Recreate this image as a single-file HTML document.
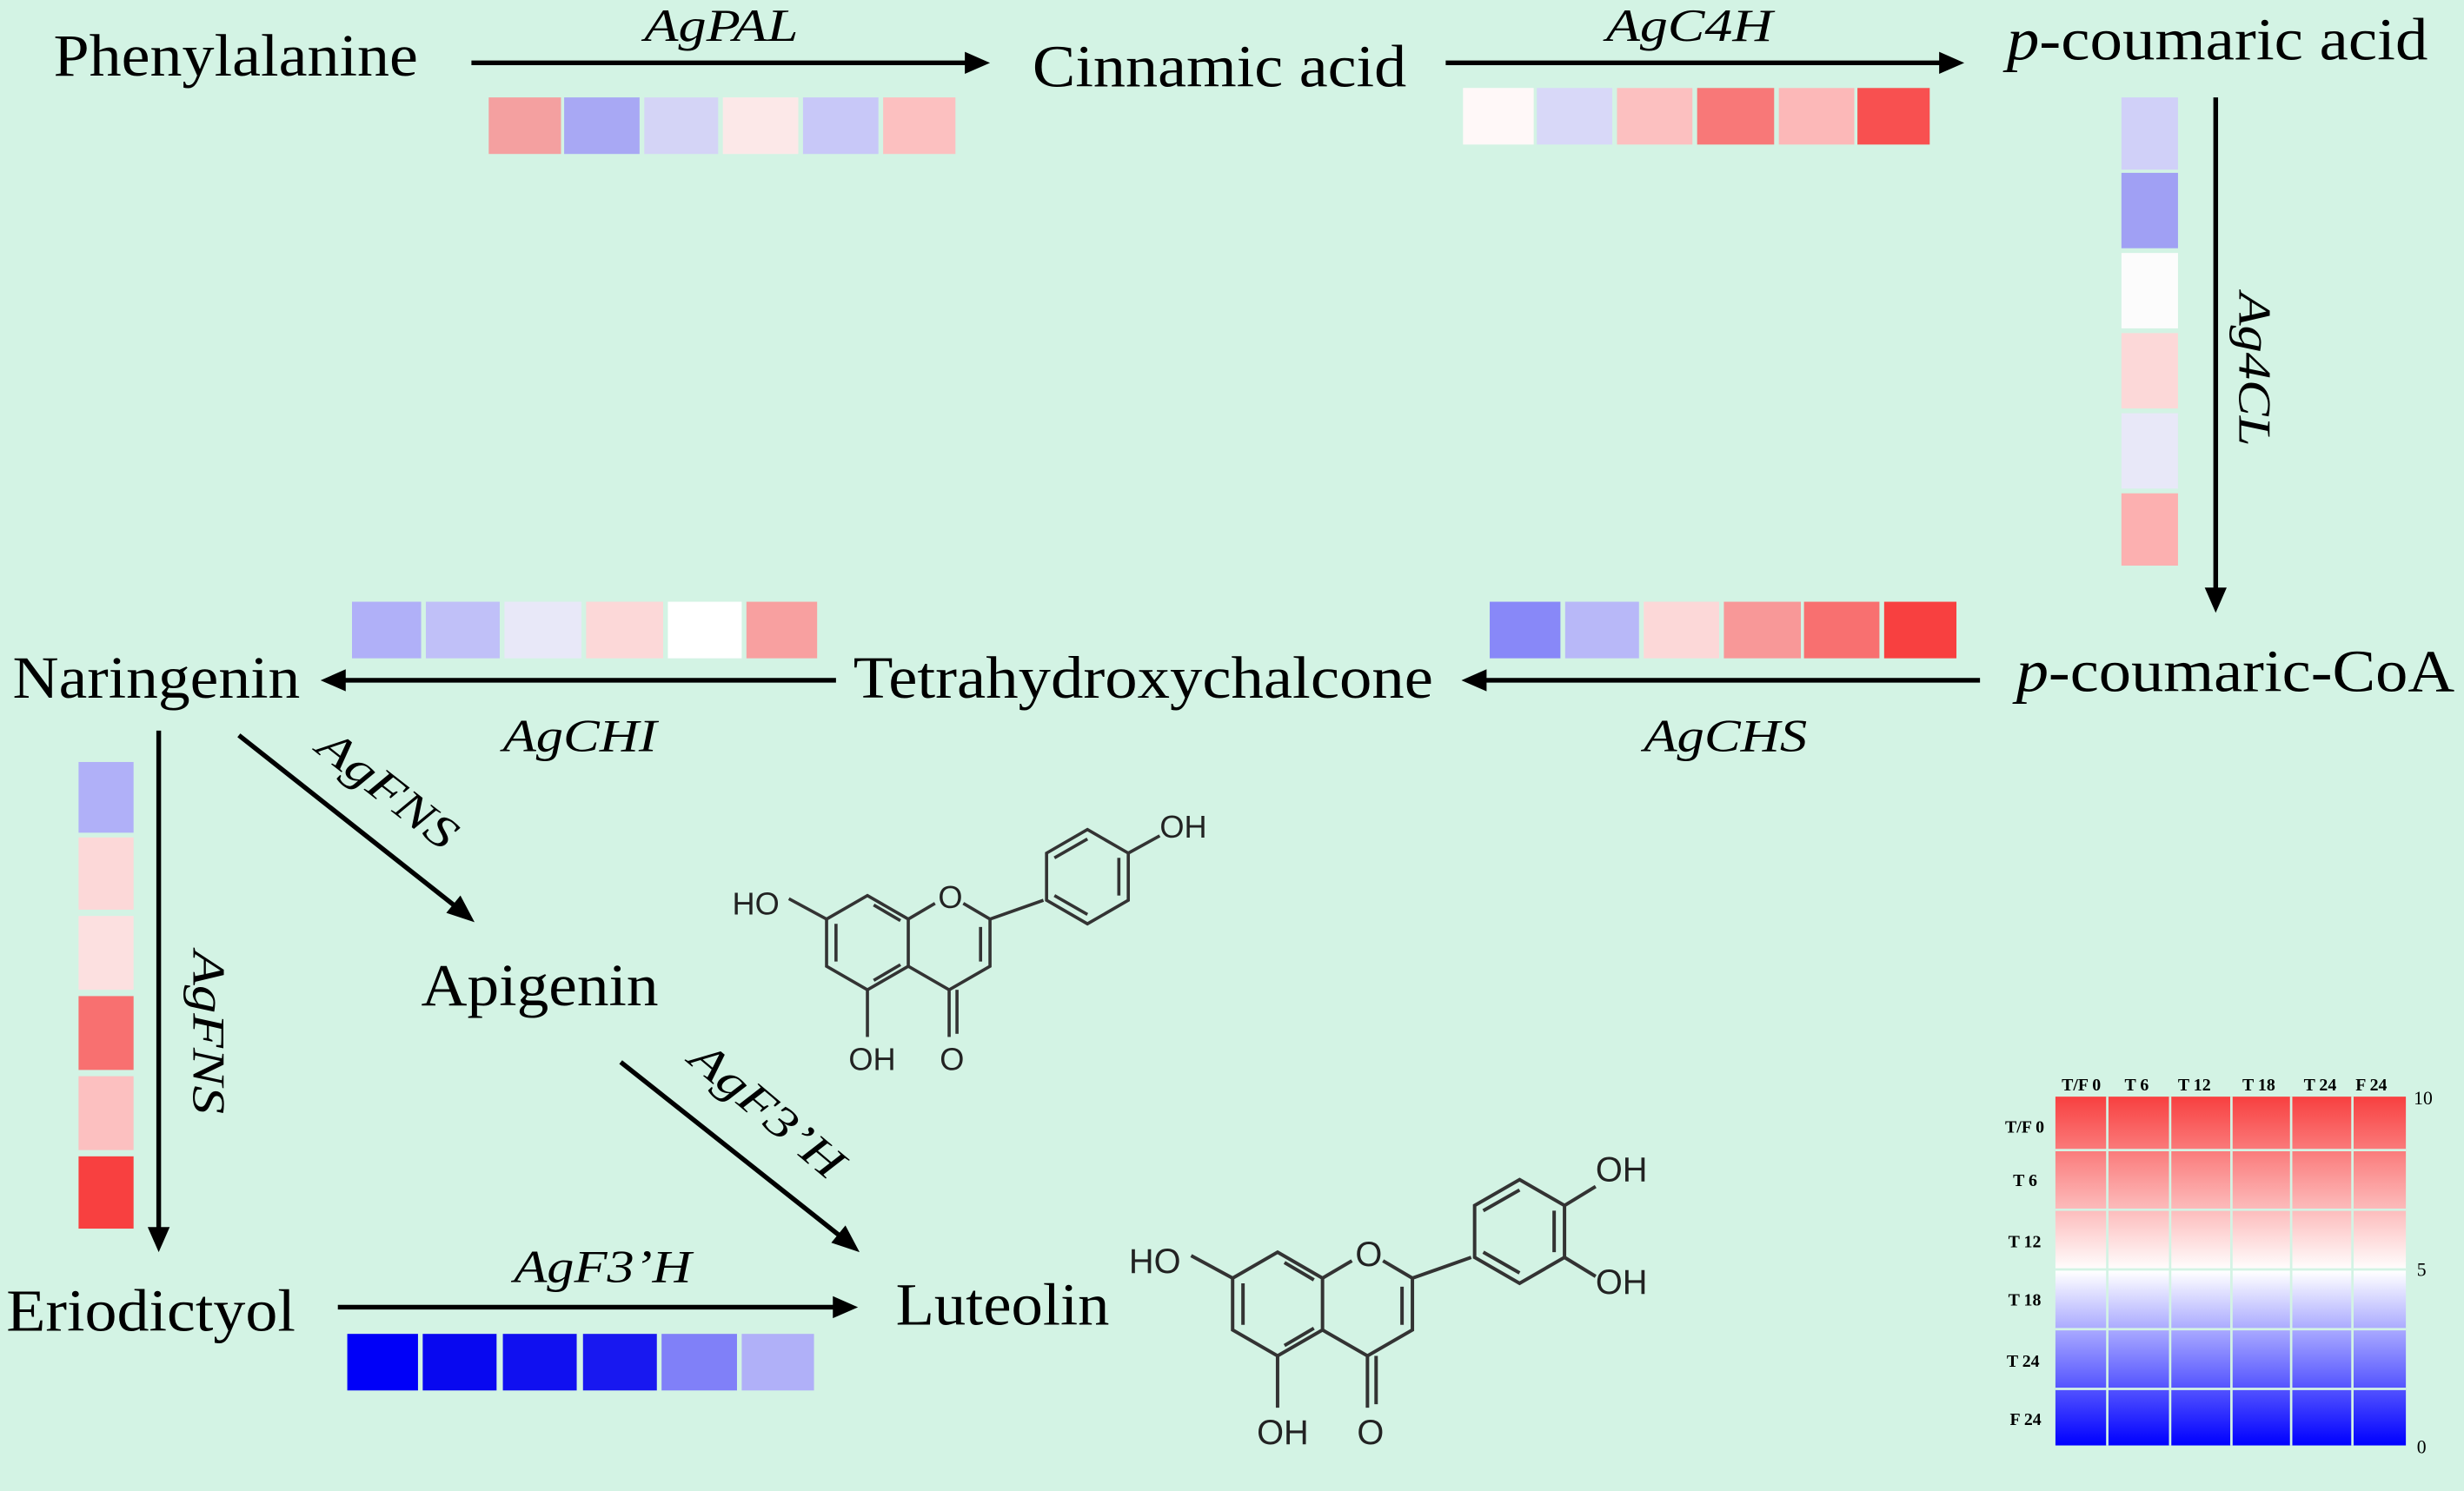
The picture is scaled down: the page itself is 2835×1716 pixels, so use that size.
<!DOCTYPE html>
<html><head><meta charset="utf-8"><style>
html,body{margin:0;padding:0;background:#d3f3e4;}
svg{display:block;}
text{font-family:"Liberation Serif",serif;fill:#000;}
.n{font-size:38px;}
.e{font-size:29px;font-style:italic;}
.s{font-size:11px;font-weight:bold;}
.m{font-family:"Liberation Sans",sans-serif;font-size:20px;fill:#222;}
</style></head><body>
<svg width="2835" height="1716" viewBox="0 0 1568 949" preserveAspectRatio="none" xmlns="http://www.w3.org/2000/svg">
<defs>
<linearGradient id="hg" x1="0" y1="0" x2="0" y2="1">
<stop offset="0" stop-color="#f84040"/><stop offset="0.5" stop-color="#ffffff"/><stop offset="1" stop-color="#0000ff"/>
</linearGradient>
<g id="mol" fill="none" stroke="#333" stroke-width="2">
<polygon points="0,-30 26,-15 26,15 0,30 -26,15 -26,-15"/>
<polyline points="26,-15 43,-25"/>
<polyline points="61,-25 78,-15 78,15 52,30 26,15"/>
<line x1="52" y1="30" x2="52" y2="60"/><line x1="57" y1="30" x2="57" y2="58"/>
<line x1="0" y1="30" x2="0" y2="60"/>
<line x1="-26" y1="-15" x2="-50" y2="-28"/>
<line x1="78" y1="-15" x2="112" y2="-27"/>
<polygon points="140,-72 166,-57 166,-27 140,-12 114,-27 114,-57"/>
<line x1="119" y1="-54" x2="140" y2="-66"/><line x1="160" y1="-54" x2="160" y2="-30"/><line x1="119" y1="-30" x2="140" y2="-18"/>
<line x1="-20" y1="-12" x2="-20" y2="12"/><line x1="4" y1="24" x2="21" y2="14"/><line x1="4" y1="-24" x2="21" y2="-14"/>
<line x1="72" y1="-10" x2="72" y2="12"/>
</g>
</defs>
<rect width="1568" height="949" fill="#d3f3e4"/>

<text class="n" x="34" y="48" textLength="232" lengthAdjust="spacingAndGlyphs">Phenylalanine</text>
<text class="n" x="657" y="55" textLength="238" lengthAdjust="spacingAndGlyphs">Cinnamic acid</text>
<text class="n" x="1277" y="38" textLength="268" lengthAdjust="spacingAndGlyphs"><tspan font-style="italic">p</tspan>-coumaric acid</text>
<text class="n" x="1283" y="440" textLength="279" lengthAdjust="spacingAndGlyphs"><tspan font-style="italic">p</tspan>-coumaric-CoA</text>
<text class="n" x="543" y="444" textLength="369" lengthAdjust="spacingAndGlyphs">Tetrahydroxychalcone</text>
<text class="n" x="8" y="444" textLength="183" lengthAdjust="spacingAndGlyphs">Naringenin</text>
<text class="n" x="268" y="640" textLength="151" lengthAdjust="spacingAndGlyphs">Apigenin</text>
<text class="n" x="4" y="847" textLength="184" lengthAdjust="spacingAndGlyphs">Eriodictyol</text>
<text class="n" x="570" y="843" textLength="136" lengthAdjust="spacingAndGlyphs">Luteolin</text>

<text class="e" x="410" y="26" textLength="98" lengthAdjust="spacingAndGlyphs">AgPAL</text>
<text class="e" x="1022" y="26" textLength="106" lengthAdjust="spacingAndGlyphs">AgC4H</text>
<text class="e" x="1046" y="478" textLength="104" lengthAdjust="spacingAndGlyphs">AgCHS</text>
<text class="e" x="320" y="478" textLength="98" lengthAdjust="spacingAndGlyphs">AgCHI</text>
<text class="e" x="327" y="816" textLength="113" lengthAdjust="spacingAndGlyphs">AgF3’H</text>
<text class="e" transform="translate(1425,186) rotate(90)" textLength="98" lengthAdjust="spacingAndGlyphs">Ag4CL</text>
<text class="e" transform="translate(123,605) rotate(90)" textLength="104" lengthAdjust="spacingAndGlyphs">AgFNS</text>
<text class="e" transform="translate(200,478) rotate(38)" textLength="104" lengthAdjust="spacingAndGlyphs">AgFNS</text>
<text class="e" transform="translate(437,676) rotate(40)" textLength="118" lengthAdjust="spacingAndGlyphs">AgF3’H</text>

<g stroke="#000" stroke-width="3" fill="none">
<line x1="300" y1="40" x2="615" y2="40"/>
<line x1="920" y1="40" x2="1235" y2="40"/>
<line x1="1410" y1="62" x2="1410" y2="376"/>
<line x1="1260" y1="433" x2="945" y2="433"/>
<line x1="532" y1="433" x2="218" y2="433"/>
<line x1="101" y1="465" x2="101" y2="783"/>
<line x1="152" y1="468" x2="290" y2="577"/>
<line x1="395" y1="676" x2="535" y2="787"/>
<line x1="215" y1="832" x2="532" y2="832"/>
</g>
<g fill="#000">
<polygon points="630,40 614,33 614,47"/>
<polygon points="1250,40 1234,33 1234,47"/>
<polygon points="1410,390 1403,374 1417,374"/>
<polygon points="930,433 946,426 946,440"/>
<polygon points="204,433 220,426 220,440"/>
<polygon points="101,797 94,781 108,781"/>
<polygon points="302,587 284,581 293,570"/>
<polygon points="547,797 529,791 538,780"/>
<polygon points="546,832 530,825 530,839"/>
</g>

<g>
<rect x="311" y="62" width="46" height="36" fill="#f4a0a0"/><rect x="359" y="62" width="48" height="36" fill="#a8a8f4"/><rect x="410" y="62" width="47" height="36" fill="#d4d4f6"/><rect x="460" y="62" width="48" height="36" fill="#fce8e8"/><rect x="511" y="62" width="48" height="36" fill="#c8c8f8"/><rect x="562" y="62" width="46" height="36" fill="#fcc0c0"/>
<rect x="931" y="56" width="45" height="36" fill="#fff8f8"/><rect x="978" y="56" width="48" height="36" fill="#d8d8f8"/><rect x="1029" y="56" width="48" height="36" fill="#fcc0c0"/><rect x="1080" y="56" width="49" height="36" fill="#f87878"/><rect x="1132" y="56" width="48" height="36" fill="#fcb8b8"/><rect x="1182" y="56" width="46" height="36" fill="#f85050"/>
<rect x="1350" y="62" width="36" height="46" fill="#d0d0f8"/><rect x="1350" y="110" width="36" height="48" fill="#a0a0f4"/><rect x="1350" y="161" width="36" height="48" fill="#fcfcfc"/><rect x="1350" y="212" width="36" height="48" fill="#fcd8d8"/><rect x="1350" y="263" width="36" height="48" fill="#e8e8f8"/><rect x="1350" y="314" width="36" height="46" fill="#fcb0b0"/>
<rect x="948" y="383" width="45" height="36" fill="#8888f8"/><rect x="996" y="383" width="47" height="36" fill="#b8b8f8"/><rect x="1046" y="383" width="48" height="36" fill="#fcd8d8"/><rect x="1097" y="383" width="49" height="36" fill="#f89898"/><rect x="1148" y="383" width="48" height="36" fill="#f87070"/><rect x="1199" y="383" width="46" height="36" fill="#f84040"/>
<rect x="224" y="383" width="44" height="36" fill="#b0b0f8"/><rect x="271" y="383" width="47" height="36" fill="#c0c0f8"/><rect x="321" y="383" width="49" height="36" fill="#e8e8f8"/><rect x="373" y="383" width="49" height="36" fill="#fcd8d8"/><rect x="425" y="383" width="47" height="36" fill="#ffffff"/><rect x="475" y="383" width="45" height="36" fill="#f8a0a0"/>
<rect x="50" y="485" width="35" height="45" fill="#b0b0f8"/><rect x="50" y="533" width="35" height="46" fill="#fcd8d8"/><rect x="50" y="583" width="35" height="47" fill="#fce0e0"/><rect x="50" y="634" width="35" height="47" fill="#f87070"/><rect x="50" y="685" width="35" height="47" fill="#fcc0c0"/><rect x="50" y="736" width="35" height="46" fill="#f84040"/>
<rect x="221" y="849" width="45" height="36" fill="#0000f8"/><rect x="269" y="849" width="47" height="36" fill="#0808f0"/><rect x="320" y="849" width="47" height="36" fill="#1010f0"/><rect x="371" y="849" width="47" height="36" fill="#1818f0"/><rect x="421" y="849" width="48" height="36" fill="#8080f8"/><rect x="472" y="849" width="46" height="36" fill="#b0b0f8"/>
</g>

<g transform="translate(552,600)">
<use href="#mol"/>
<text class="m" x="-86" y="-18">HO</text>
<text class="m" x="45" y="-22">O</text>
<text class="m" x="-12" y="81">OH</text>
<text class="m" x="46" y="81">O</text>
<line x1="166" y1="-57" x2="186" y2="-68" stroke="#333" stroke-width="2"/>
<text class="m" x="186" y="-67">OH</text>
</g>
<g transform="translate(813,830) scale(1.1)">
<use href="#mol"/>
<text class="m" x="-86" y="-18">HO</text>
<text class="m" x="45" y="-22">O</text>
<text class="m" x="-12" y="81">OH</text>
<text class="m" x="46" y="81">O</text>
<line x1="166" y1="-57" x2="184" y2="-68" stroke="#333" stroke-width="2"/>
<line x1="166" y1="-27" x2="184" y2="-16" stroke="#333" stroke-width="2"/>
<text class="m" x="184" y="-71">OH</text>
<text class="m" x="184" y="-6">OH</text>
</g>

<rect x="1308" y="698" width="223" height="222" fill="url(#hg)"/>
<g stroke="#d3f3e4" stroke-width="1.5">
<line x1="1341" y1="698" x2="1341" y2="920"/><line x1="1381" y1="698" x2="1381" y2="920"/><line x1="1420" y1="698" x2="1420" y2="920"/><line x1="1458" y1="698" x2="1458" y2="920"/><line x1="1497" y1="698" x2="1497" y2="920"/>
<line x1="1308" y1="732" x2="1531" y2="732"/><line x1="1308" y1="770" x2="1531" y2="770"/><line x1="1308" y1="808" x2="1531" y2="808"/><line x1="1308" y1="846" x2="1531" y2="846"/><line x1="1308" y1="884" x2="1531" y2="884"/>
</g>
<g>
<text class="s" x="1312" y="694">T/F 0</text><text class="s" x="1352" y="694">T 6</text><text class="s" x="1386" y="694">T 12</text><text class="s" x="1427" y="694">T 18</text><text class="s" x="1466" y="694">T 24</text><text class="s" x="1499" y="694">F 24</text>
<text class="s" x="1276" y="721">T/F 0</text><text class="s" x="1281" y="755">T 6</text><text class="s" x="1278" y="794">T 12</text><text class="s" x="1278" y="831">T 18</text><text class="s" x="1277" y="870">T 24</text><text class="s" x="1279" y="907">F 24</text>
<text x="1536" y="703" font-size="12">10</text><text x="1538" y="812" font-size="12">5</text><text x="1538" y="925" font-size="12">0</text>
</g>
</svg>
</body></html>
